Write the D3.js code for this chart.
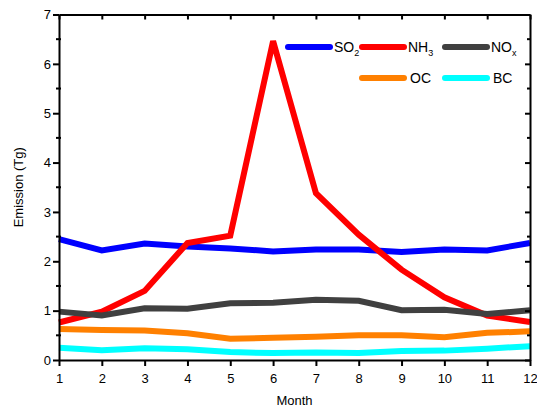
<!DOCTYPE html>
<html>
<head>
<meta charset="utf-8">
<script src="https://cdn.jsdelivr.net/npm/d3@7/dist/d3.min.js"></script>
<style>
  body { margin: 0; background: #fff; }
  svg { display: block; font-family: "Liberation Sans", Arial, sans-serif; }
  .axis path, .axis line { stroke: #000; stroke-width: 2; }
  .axis text { font-size: 13px; fill: #000; }
</style>
</head>
<body>
<svg id="chart"></svg>
<script>
const months = [1, 2, 3, 4, 5, 6, 7, 8, 9, 10, 11, 12];
const so2 = [2.45, 2.22, 2.36, 2.30, 2.26, 2.20, 2.24, 2.24, 2.19, 2.24, 2.22, 2.37];
const nh3 = [0.76, 0.98, 1.40, 2.37, 2.52, 6.46, 3.38, 2.54, 1.83, 1.27, 0.90, 0.77];
const nox = [0.98, 0.90, 1.05, 1.04, 1.15, 1.16, 1.22, 1.20, 1.01, 1.02, 0.93, 1.01];
const oc = [0.63, 0.61, 0.60, 0.54, 0.43, 0.45, 0.47, 0.50, 0.50, 0.46, 0.55, 0.58];
const bc = [0.25, 0.20, 0.24, 0.22, 0.16, 0.14, 0.15, 0.14, 0.18, 0.19, 0.23, 0.28];
const yTicks = [0, 1, 2, 3, 4, 5, 6, 7];
const yMinor = [0.5, 1.5, 2.5, 3.5, 4.5, 5.5, 6.5];

const series = [
    { name: "SO", sub: "2", values: so2, color: "#0000ff" },
    { name: "NH", sub: "3", values: nh3, color: "#ff0000" },
    { name: "NO", sub: "x", values: nox, color: "#404040" },
    { name: "OC", sub: "", values: oc, color: "#ff8000" },
    { name: "BC", sub: "", values: bc, color: "#00ffff" }
];

const width = 537, height = 409;
const margin = { top: 14.5, right: 7, bottom: 49, left: 59 };

const svg = d3.select("#chart")
    .attr("width", width)
    .attr("height", height);

const x = d3.scaleLinear().domain([1, 12]).range([margin.left, width - margin.right]);
const y = d3.scaleLinear().domain([0, 7]).range([height - margin.bottom, margin.top]);

// Lines
const line = d3.line()
    .x((d, i) => x(months[i]))
    .y(d => y(d));

svg.append("g").selectAll("path")
    .data(series)
    .enter()
    .append("path")
    .attr("d", d => line(d.values))
    .attr("fill", "none")
    .attr("stroke", d => d.color)
    .attr("stroke-width", 6)
    .attr("stroke-linejoin", "miter");

// Axes
svg.append("g")
    .attr("class", "axis")
    .attr("transform", `translate(0,${y(0)})`)
    .call(d3.axisBottom(x).tickValues(months).tickSize(6).tickSizeOuter(0).tickFormat(d3.format("d")))
    .call(g => g.selectAll("text").attr("dy", "1.05em"));

svg.append("g")
    .attr("class", "axis")
    .attr("transform", `translate(0,${y(7)})`)
    .call(d3.axisTop(x).tickValues(months).tickSize(-5).tickSizeOuter(0).tickFormat(""));

svg.append("g")
    .attr("class", "axis")
    .attr("transform", `translate(${x(1)},0)`)
    .call(d3.axisLeft(y).tickValues(yTicks).tickSize(6).tickSizeOuter(0).tickFormat(d3.format("d")))
    .call(g => g.selectAll("text").attr("x", -8));

svg.append("g")
    .attr("class", "axis")
    .attr("transform", `translate(${x(12)},0)`)
    .call(d3.axisRight(y).tickValues(yTicks).tickSize(-5).tickSizeOuter(0).tickFormat(""));

// Minor y ticks
svg.append("g").selectAll("line")
    .data(yMinor)
    .enter()
    .append("line")
    .attr("x1", x(1) - 3)
    .attr("x2", x(1) + 2)
    .attr("y1", d => y(d))
    .attr("y2", d => y(d))
    .attr("stroke", "#000")
    .attr("stroke-width", 2);

svg.append("g").selectAll("line")
    .data(yMinor)
    .enter()
    .append("line")
    .attr("x1", x(12) - 3)
    .attr("x2", x(12))
    .attr("y1", d => y(d))
    .attr("y2", d => y(d))
    .attr("stroke", "#000")
    .attr("stroke-width", 2);

// Axis labels
svg.append("text")
    .attr("x", (x(1) + x(12)) / 2)
    .attr("y", 405)
    .attr("text-anchor", "middle")
    .style("font-size", "13px")
    .text("Month");

svg.append("text")
    .attr("transform", `translate(23,${(y(0) + y(7)) / 2}) rotate(-90)`)
    .attr("text-anchor", "middle")
    .style("font-size", "13px")
    .text("Emission (Tg)");

// Legend
const legendPos = [
    { x: 288, y: 47 },
    { x: 362, y: 47 },
    { x: 445, y: 47 },
    { x: 362, y: 78 },
    { x: 445, y: 78 }
];

const legend = svg.append("g").selectAll("g")
    .data(series)
    .enter()
    .append("g")
    .attr("transform", (d, i) => `translate(${legendPos[i].x},${legendPos[i].y})`);

legend.append("line")
    .attr("x1", 0)
    .attr("x2", 42)
    .attr("stroke", d => d.color)
    .attr("stroke-width", 6)
    .attr("stroke-linecap", "round");

const lt = legend.append("text")
    .attr("x", (d, i) => i >= 3 ? 48 : 46)
    .attr("y", 5)
    .style("font-size", "14px");

lt.append("tspan").text(d => d.name);
lt.append("tspan")
    .attr("dy", 4)
    .style("font-size", "9px")
    .text(d => d.sub);
</script>
</body>
</html>
